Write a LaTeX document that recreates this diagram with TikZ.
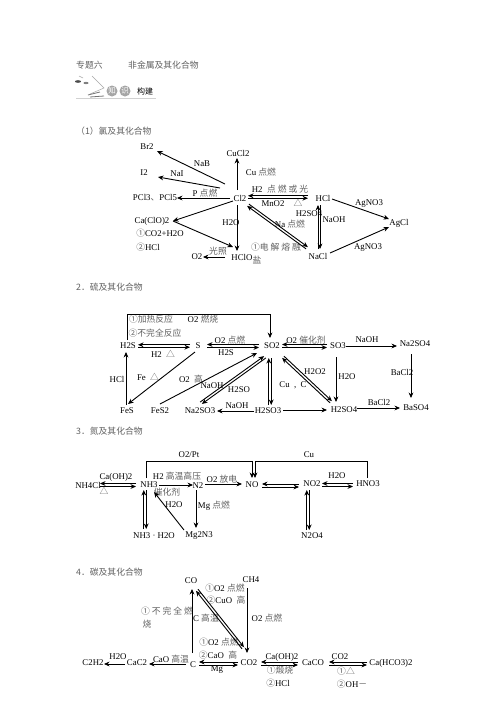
\documentclass[tikz,border=0pt]{standalone}
\usepackage{fontspec}
\setmainfont{Liberation Serif}
\newfontfamily\cjk{Noto Sans CJK SC}
\usetikzlibrary{arrows.meta,calc}
\newcommand{\zh}[1]{{\cjk\color{black!62}#1}}
\newcommand{\conn}[4]{\draw[ar] ($(#1)+(#2)$) -- ($(#3)+(#4)$);}
\newcommand{\twoway}[5]{\draw[ar] ($(#1)+(#2)+(#5)$) -- ($(#3)+(#4)+(#5)$);\draw[ar] ($(#3)+(#4)-(#5)$) -- ($(#1)+(#2)-(#5)$);}
\tikzset{
 t/.style={inner sep=0pt,font=\fontsize{8.8}{10}\selectfont,text=black},
 h/.style={t,anchor=west},
 ar/.style={line width=0.9pt,black,-{Stealth[length=5.5pt,width=4.8pt]}},
}
\begin{document}
\begin{tikzpicture}[x=1pt,y=-1pt]
\useasboundingbox[fill=white] (0,0) rectangle (496,702);
% headings
\node[h] (ti1) at (76,65) {\zh{专题六}};
\node[h] (ti2) at (128,65) {\zh{非金属及其化合物}};
\node[h] (s1) at (76,131) {\zh{（1）氯及其化合物}};
\node[h] (s2) at (76,287) {\zh{2．硫及其化合物}};
\node[h] (s3) at (76,431) {\zh{3．氮及其化合物}};
\node[h] (s4) at (76,572) {\zh{4．碳及其化合物}};
% icon
\fill[black!35] (112,91) circle (5.5);
\fill[black!35] (125,91) circle (5.5);
\node[t,text=white] (ic1) at (112,91) {\cjk\fontsize{7.5}{8}\selectfont 知};
\node[t,text=white] (ic2) at (125,91) {\cjk\fontsize{7.5}{8}\selectfont 识};
\node[t] (ic3) at (145,91) {\cjk\fontsize{8}{9}\selectfont 构建};
\fill[black!70] (78,81.5) ellipse (3 and 1.3);
\fill[black!50] (86,83) ellipse (2.5 and 1.1);
\draw[black!35,line width=.5pt] (79,76) -- (83,78) (92,76) -- (104,88) -- (90,94);
\draw[black!55,line width=.8pt] (88,95) -- (100,92) (90,97) -- (104,96);
\draw[black!18,line width=1pt] (76,98.5) -- (156,98.5);

% ---------- section 1
\node[t] (br2) at (147,147) {Br2};
\node[t] (cucl2) at (238,153) {CuCl2};
\node[t] (i2) at (144,173) {I2};
\node[t] (lnab) at (202,164) {NaB};
\node[t] (lnai) at (177,174) {NaI};
\node[t] (lcu) at (261,172) {Cu \zh{点燃}};
\node[t] (lp) at (205,193) {P \zh{点燃}};
\node[t] (pcl) at (155,198) {PCl3\zh{、}PCl5};
\node[t] (cl2) at (240,198) {Cl2};
\node[t] (lh2) at (280,189) {H2\ \ \zh{点 燃 或 光}};
\node[t] (lmno) at (273,204) {MnO2};
\node[t] (ltri) at (298,203) {\zh{△}};
\node[t] (hcl) at (323,198) {HCl};
\node[t] (lhs) at (309,214) {H2SO4};
\node[t] (lnaoh) at (334,220) {NaOH};
\node[t] (lag1) at (369,204) {AgNO3};
\node[t] (agcl) at (399,223) {AgCl};
\node[t] (lag2) at (368,248) {AgNO3};
\node[t] (nacl) at (318,256) {NaCl};
\node[t] (lna) at (290,224) {Na \zh{点燃}};
\node[t] (ldj) at (276,247) {\zh{①电 解 熔 融}};
\node[t] (lyan) at (257,260) {\zh{盐}};
\node[t] (caclo) at (152,221) {Ca(ClO)2};
\node[t] (lc1) at (160,233) {\zh{①}CO2+H2O};
\node[t] (lc2) at (148,247) {\zh{②}HCl};
\node[t] (lh2o) at (231,223) {H2O};
\node[t] (hclo) at (242,257) {HClO};
\node[t] (o2a) at (197,257) {O2};
\node[t] (lgz) at (218,251) {\zh{光照}};
\conn{cl2}{-15,-14}{br2}{10,4}
\conn{cl2}{-20,-10}{i2}{14,4}
\conn{cl2}{-10,0}{pcl}{22,0}
\conn{cl2}{-3,-8}{cucl2}{-1,5}
\conn{cl2}{-7,3}{caclo}{21,0}
\conn{caclo}{21,0}{hclo}{-9,-10}
\conn{cl2}{-3,7}{hclo}{-5,-6}
\conn{hclo}{-17,0}{o2a}{6,0}
\twoway{cl2}{8,-1}{hcl}{-15,-1}{0,1.2}
\twoway{cl2}{8,7}{nacl}{-11,-8}{0.9,-0.9}
\twoway{hcl}{-4,7}{nacl}{1,-7}{1,0}
\conn{hcl}{9,1}{agcl}{-10,-4}
\conn{nacl}{12,-3}{agcl}{-10,4}

% ---------- section 2
\node[t] (a1) at (151,319) {\zh{①加热反应}};
\node[t] (a2) at (203,319) {O2 \zh{燃烧}};
\node[t] (a3) at (155,333) {\zh{②不完全反应}};
\node[t] (h2s) at (128,346) {H2S};
\node[t] (s) at (198,346) {S};
\node[t] (so2) at (272,346) {SO2};
\node[t] (so3) at (338,346) {SO3};
\node[t] (na2so4) at (415,344) {Na2SO4};
\node[t] (b1) at (163,354) {H2\ \ \zh{△}};
\node[t] (b2) at (230,340) {O2 \zh{点燃}};
\node[t] (b3) at (226,353) {H2S};
\node[t] (b4) at (306,340) {O2\ \zh{催化剂}};
\node[t] (b5) at (367,340) {NaOH};
\node[t] (b6) at (402,372) {BaCl2};
\node[t] (baso4) at (416,408) {BaSO4};
\node[t] (h2so4) at (344,410) {H2SO4};
\node[t] (b7) at (379,402) {BaCl2};
\node[t] (b8) at (347,377) {H2O};
\node[t] (b9) at (315,372) {H2O2};
\node[t] (b10) at (293,385) {Cu\ \ ,\ \ C};
\node[t] (h2so3) at (268,411) {H2SO3};
\node[t] (na2so3) at (200,411) {Na2SO3};
\node[t] (b11) at (237,406) {NaOH};
\node[t] (fes) at (127,411) {FeS};
\node[t] (fes2) at (160,411) {FeS2};
\node[t] (b12) at (117,379) {HCl};
\node[t] (b13) at (148,377) {Fe\ \ \zh{△}};
\node[t] (b14) at (191,379) {O2\ \ \zh{高}};
\node[t] (b15) at (212,386) {NaOH};
\node[t] (b16) at (239,390) {H2SO};
\twoway{h2s}{10,0}{s}{-8,0}{0,1.2}
\twoway{s}{9,0}{so2}{-13,0}{0,1.5}
\twoway{so2}{10,0}{so3}{-11,0}{0,1.5}
\conn{so3}{8,0}{na2so4}{-18,2}
\conn{na2so4}{-4,10}{baso4}{-5,-10}
\conn{h2so4}{13,-2}{baso4}{-16,0}
\conn{so3}{-2,11}{h2so4}{-8,-8}
\twoway{so2}{11,11}{h2so4}{-13,-8}{0.9,-0.9}
\conn{h2so3}{15,-1}{h2so4}{-17,0}
\twoway{so2}{-2,12}{h2so3}{2,-6}{1.2,0}
\conn{h2so3}{-14,0}{na2so3}{17,0}
\conn{fes}{-1,-6}{h2s}{-2,6}
\conn{s}{-3,6}{fes}{1,-7}
\conn{fes2}{0,-7}{so2}{-15,7}
\twoway{so2}{-7,11}{na2so3}{1,-8}{0.9,0.9}
\draw[ar] ($(h2s)+(-1,-6)$) -- ++(0,-26) -| ($(so2)+(-2,-8)$);

% ---------- section 3
\node[t] (c1) at (189,455) {O2/Pt};
\node[t] (c2) at (309,455) {Cu};
\node[t] (nh4cl) at (88,485) {NH4Cl};
\node[t] (c3) at (116,477) {Ca(OH)2};
\node[t] (c4) at (104,491) {\zh{△}};
\node[t] (nh3) at (149,485) {NH3};
\node[t] (c5) at (177,476.5) {H2\ \zh{高温高压}};
\node[t] (c6) at (167,492) {\zh{催化剂}};
\node[t] (n2) at (198,486) {N2};
\node[t] (c7) at (222,479) {O2\ \zh{放电}};
\node[t] (no) at (252,485) {NO};
\node[t] (no2) at (312,484) {NO2};
\node[t] (hno3) at (368,484) {HNO3};
\node[t] (c8) at (337,476) {H2O};
\node[t] (n2o4) at (312,536) {N2O4};
\node[t] (nh3w) at (154,536) {NH3\ ·\ H2O};
\node[t] (mg2n3) at (199,536) {Mg2N3};
\node[t] (c9) at (174,505) {H2O};
\node[t] (c10) at (214,506) {Mg \zh{点燃}};
\twoway{nh4cl}{12,0}{nh3}{-13,0}{0,1.5}
\conn{nh3}{10,0}{n2}{-5,-1}
\conn{n2}{7,-2}{no}{-10,-1}
\twoway{no}{10,0.5}{no2}{-13,1.5}{0,1.5}
\twoway{no2}{10,1}{hno3}{-15,1}{0,1.5}
\twoway{no2}{-4,6}{n2o4}{-4,-6}{1.2,0}
\twoway{nh3}{-4,5}{nh3w}{-9,-7}{1.2,0}
\conn{n2}{-2,4}{mg2n3}{-3,-8}
\conn{mg2n3}{-15,-6}{nh3}{5,7}
\draw[ar] ($(nh3)+(-3,-7)$) -- ++(0,-17) -| ($(no)+(0,-7)$);
\draw[ar] ($(hno3)+(-1,-6)$) -- ++(0,-17) -| ($(no)+(3,-7)$);

% ---------- section 4
\node[t] (co) at (191,581) {CO};
\node[t] (ch4) at (251,580) {CH4};
\node[t] (d1) at (225,588) {\zh{①}O2\ \zh{点燃}};
\node[t] (d2) at (226,600) {\zh{②}CuO\ \ \zh{高}};
\node[t] (d3) at (167,611) {\zh{① 不 完 全 燃}};
\node[t] (d4) at (147,624) {\zh{烧}};
\node[t] (d5) at (206,618) {C \zh{高温}};
\node[t] (d6) at (267,618) {O2 \zh{点燃}};
\node[t] (d7) at (219,642) {\zh{①}O2\ \zh{点燃}};
\node[t] (d8) at (218,655) {\zh{②}CaO\ \ \zh{高}};
\node[t] (d9) at (217,670) {Mg};
\node[t] (c2h2) at (93,663) {C2H2};
\node[t] (d10) at (118,657) {H2O};
\node[t] (cac2) at (137,663) {CaC2};
\node[t] (d11) at (171,659) {CaO \zh{高温}};
\node[t] (cc) at (193,665) {C};
\node[t] (co2) at (249,663) {CO2};
\node[t] (caco) at (313,663) {CaCO};
\node[t] (d12) at (282,657) {Ca(OH)2};
\node[t] (d13) at (280,670) {\zh{①煅烧}};
\node[t] (d14) at (278,683) {\zh{②}HCl};
\node[t] (d15) at (340,657) {CO2};
\node[t] (d16) at (346,671) {\zh{①△}};
\node[t] (d17) at (352,684) {\zh{②}OH\zh{－}};
\node[t] (cahco) at (391,663) {Ca(HCO3)2};
\conn{cac2}{-12,1}{c2h2}{11,1}
\conn{cc}{-7,-1}{cac2}{12,1}
\twoway{cc}{6,-1.5}{co2}{-11,0.5}{0,1.5}
\conn{cc}{-1,-12}{co}{1,8}
\conn{ch4}{-4,8}{co2}{-2,-10}
\twoway{co}{6,9}{co2}{-6,-15}{1,-0.8}
\twoway{co2}{12,0.5}{caco}{-15,0.5}{0,1.5}
\twoway{caco}{16,0.5}{cahco}{-24,0.5}{0,1.5}
\end{tikzpicture}
\end{document}
